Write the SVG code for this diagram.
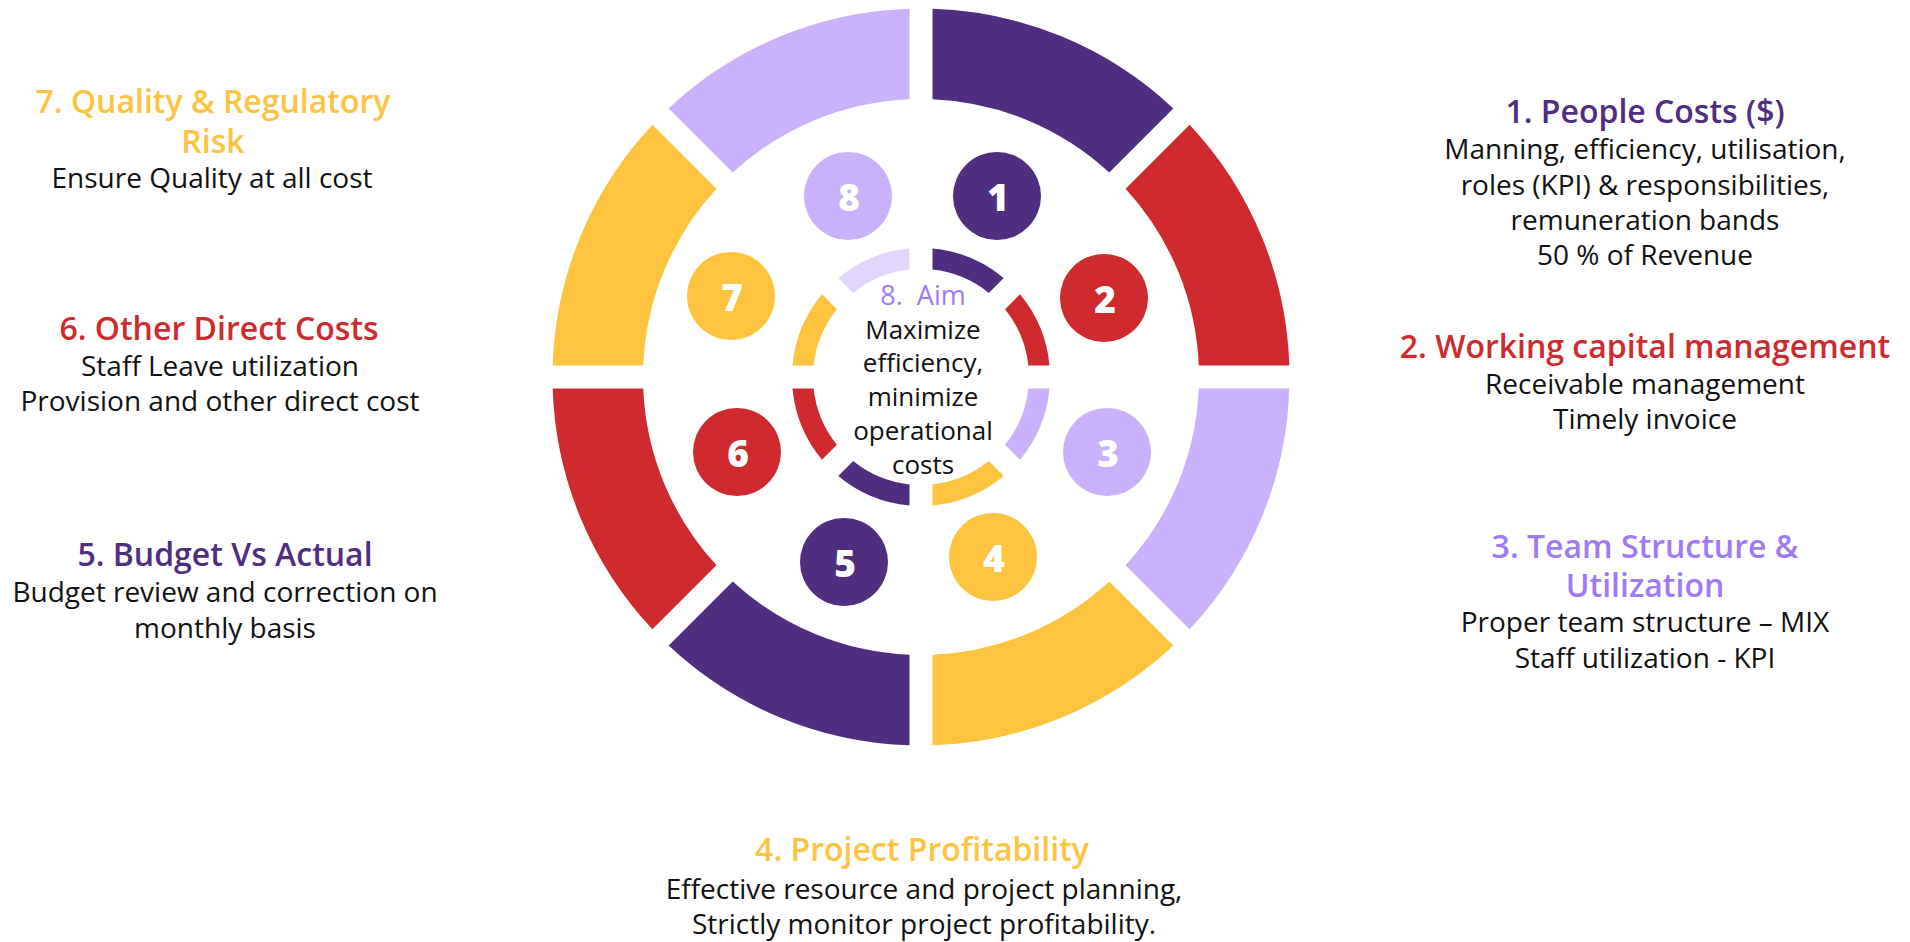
<svg xmlns="http://www.w3.org/2000/svg" width="1910" height="942" viewBox="0 0 1910 942">
<style>
text{font-family:"Open Sans","Liberation Sans",sans-serif;text-anchor:middle}
.h{font-weight:600;font-size:32px}
.b{font-size:28px;fill:#111111}
.c{font-size:26px;fill:#111111}
.n{font-weight:800;font-size:37px;fill:#ffffff}
.pu{fill:#4F2D7F}.rd{fill:#CF2A2E}.lv{fill:#C9B1FC}.ye{fill:#FEC33F}.llv{fill:#E3D6FE}.vi{fill:#A079F7}
</style>
<rect width="1910" height="942" fill="#ffffff"/>
<g id="outer-ring">
<path class="pu" d="M932.5,8.69 A368.5,368.5 0 0 1 1173.31,108.43 L1109.28,172.46 A278,278 0 0 0 932.5,99.24 Z"/>
<path class="rd" d="M1189.57,124.69 A368.5,368.5 0 0 1 1289.31,365.5 L1198.76,365.5 A278,278 0 0 0 1125.54,188.72 Z"/>
<path class="lv" d="M1289.31,388.5 A368.5,368.5 0 0 1 1189.57,629.31 L1125.54,565.28 A278,278 0 0 0 1198.76,388.5 Z"/>
<path class="ye" d="M1173.31,645.57 A368.5,368.5 0 0 1 932.5,745.31 L932.5,654.76 A278,278 0 0 0 1109.28,581.54 Z"/>
<path class="pu" d="M909.5,745.31 A368.5,368.5 0 0 1 668.69,645.57 L732.72,581.54 A278,278 0 0 0 909.5,654.76 Z"/>
<path class="rd" d="M652.43,629.31 A368.5,368.5 0 0 1 552.69,388.5 L643.24,388.5 A278,278 0 0 0 716.46,565.28 Z"/>
<path class="ye" d="M552.69,365.5 A368.5,368.5 0 0 1 652.43,124.69 L716.46,188.72 A278,278 0 0 0 643.24,365.5 Z"/>
<path class="lv" d="M668.69,108.43 A368.5,368.5 0 0 1 909.5,8.69 L909.5,99.24 A278,278 0 0 0 732.72,172.46 Z"/>
</g>
<g id="inner-ring">
<path class="pu" d="M932.5,248.51 A129,129 0 0 1 1003.72,278.01 L988.8,292.93 A108,108 0 0 0 932.5,269.61 Z"/>
<path class="rd" d="M1019.99,294.28 A129,129 0 0 1 1049.49,365.5 L1028.39,365.5 A108,108 0 0 0 1005.07,309.2 Z"/>
<path class="lv" d="M1049.49,388.5 A129,129 0 0 1 1019.99,459.72 L1005.07,444.8 A108,108 0 0 0 1028.39,388.5 Z"/>
<path class="ye" d="M1003.72,475.99 A129,129 0 0 1 932.5,505.49 L932.5,484.39 A108,108 0 0 0 988.8,461.07 Z"/>
<path class="pu" d="M909.5,505.49 A129,129 0 0 1 838.28,475.99 L853.2,461.07 A108,108 0 0 0 909.5,484.39 Z"/>
<path class="rd" d="M822.01,459.72 A129,129 0 0 1 792.51,388.5 L813.61,388.5 A108,108 0 0 0 836.93,444.8 Z"/>
<path class="ye" d="M792.51,365.5 A129,129 0 0 1 822.01,294.28 L836.93,309.2 A108,108 0 0 0 813.61,365.5 Z"/>
<path class="llv" d="M838.28,278.01 A129,129 0 0 1 909.5,248.51 L909.5,269.61 A108,108 0 0 0 853.2,292.93 Z"/>
</g>
<g id="node-1"><circle class="pu" cx="997" cy="196" r="44"/><text class="n" x="998" y="211">1</text></g>
<g id="node-2"><circle class="rd" cx="1104" cy="298" r="44"/><text class="n" x="1105" y="313">2</text></g>
<g id="node-3"><circle class="lv" cx="1107" cy="452" r="44"/><text class="n" x="1108" y="467">3</text></g>
<g id="node-4"><circle class="ye" cx="993" cy="557" r="44"/><text class="n" x="994" y="572">4</text></g>
<g id="node-5"><circle class="pu" cx="844" cy="562" r="44"/><text class="n" x="845" y="577">5</text></g>
<g id="node-6"><circle class="rd" cx="737" cy="452" r="44"/><text class="n" x="738" y="467">6</text></g>
<g id="node-7"><circle class="ye" cx="731" cy="296" r="44"/><text class="n" x="732" y="311">7</text></g>
<g id="node-8"><circle class="lv" cx="848" cy="196" r="44"/><text class="n" x="849" y="211">8</text></g>
<g id="center-aim">
<text class="c vi" x="923" y="305" style="white-space:pre;font-size:27px">8.  Aim</text>
<text class="c" x="923" y="339">Maximize</text>
<text class="c" x="923" y="372">efficiency,</text>
<text class="c" x="923" y="406">minimize</text>
<text class="c" x="923" y="440">operational</text>
<text class="c" x="923" y="474">costs</text>
</g>
<g id="label-1">
<text class="h pu" x="1645" y="123">1. People Costs ($)</text>
<text class="b" x="1645" y="159">Manning, efficiency, utilisation,</text>
<text class="b" x="1645" y="195">roles (KPI) &amp; responsibilities,</text>
<text class="b" x="1645" y="230">remuneration bands</text>
<text class="b" x="1645" y="265">50 % of Revenue</text>
</g>
<g id="label-2">
<text class="h rd" x="1645" y="358">2. Working capital management</text>
<text class="b" x="1645" y="394">Receivable management</text>
<text class="b" x="1645" y="429">Timely invoice</text>
</g>
<g id="label-3">
<text class="h vi" x="1645" y="558">3. Team Structure &amp;</text>
<text class="h vi" x="1645" y="597">Utilization</text>
<text class="b" x="1645" y="632">Proper team structure – MIX</text>
<text class="b" x="1645" y="668">Staff utilization - KPI</text>
</g>
<g id="label-4">
<text class="ye" x="922" y="861" style="font-weight:600;font-size:32px">4. Project Profitability</text>
<text class="b" x="924" y="899">Effective resource and project planning,</text>
<text class="b" x="924" y="934">Strictly monitor project profitability.</text>
</g>
<g id="label-5">
<text class="h pu" x="225" y="566">5. Budget Vs Actual</text>
<text class="b" x="225" y="602">Budget review and correction on</text>
<text class="b" x="225" y="638">monthly basis</text>
</g>
<g id="label-6">
<text class="h rd" x="219" y="340">6. Other Direct Costs</text>
<text class="b" x="220" y="376">Staff Leave utilization</text>
<text class="b" x="220" y="411">Provision and other direct cost</text>
</g>
<g id="label-7">
<text class="h ye" x="213" y="113">7. Quality &amp; Regulatory</text>
<text class="h ye" x="213" y="153">Risk</text>
<text class="b" x="212" y="188">Ensure Quality at all cost</text>
</g>
</svg>
